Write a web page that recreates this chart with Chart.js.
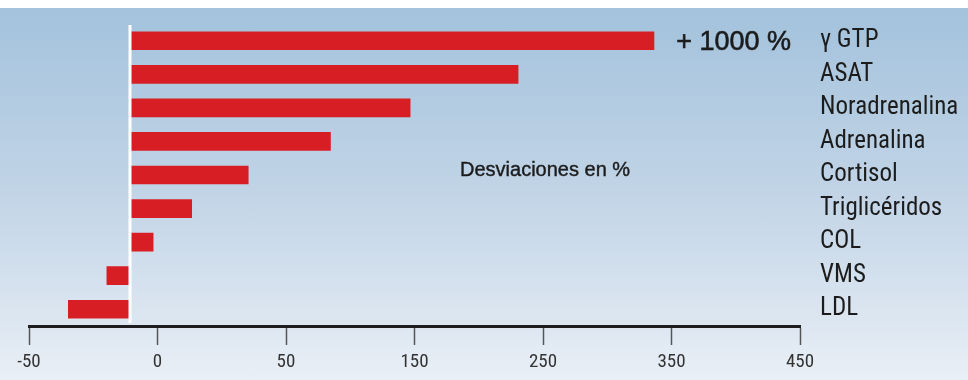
<!DOCTYPE html>
<html>
<head>
<meta charset="utf-8">
<script src="https://cdn.jsdelivr.net/npm/chart.js@4"></script>
<style>
    html, body { margin: 0; padding: 0; background: #fff; }
    .panel {
        position: relative;
        width: 968px;
        height: 380px;
        background: linear-gradient(to bottom, #fff 0, #fff 8px, #a3c2dc 8px, #c3d5e7 200px, #e9eff6 380px);
    }
</style>
</head>
<body>
<div class="panel">
    <canvas id="desvChart" width="968" height="380"></canvas>
</div>
<script>
// Parameters, top to bottom
const categories = ['γ GTP', 'ASAT', 'Noradrenalina', 'Adrenalina', 'Cortisol', 'Triglicéridos', 'COL', 'VMS', 'LDL'];
// Deviation in %
const deviations = [1000, 151, 109, 78, 46, 24, 9, -9, -24];
// Where the bar scale is cut off (long bars stop here)
const breakAt = 204;
// Labels printed under the evenly spaced axis ticks
const tickLabels = ['-50', '0', '50', '150', '250', '350', '450'];

const axisTitle = 'Desviaciones en %';
const narrow = '"Liberation Sans Narrow", "Arial Narrow", "Roboto Condensed", sans-serif';

// Cut long bars at breakAt and print the real value next to them
const breakPlugin = {
    id: 'axisBreak',
    beforeDatasetsDraw(chart) {
        const { ctx, chartArea } = chart;
        const cut = chart.scales.x.getPixelForValue(breakAt);
        ctx.save();
        ctx.beginPath();
        ctx.rect(0, chartArea.top, cut, chartArea.bottom - chartArea.top);
        ctx.clip();
    },
    afterDatasetsDraw(chart) {
        const { ctx, chartArea, scales } = chart;
        ctx.restore();

        // white zero line
        const x0 = scales.x.getPixelForValue(0);
        ctx.save();
        ctx.strokeStyle = '#ffffff';
        ctx.lineWidth = 3;
        ctx.beginPath();
        ctx.moveTo(x0, chartArea.top + 1);
        ctx.lineTo(x0, chartArea.bottom - 3);
        ctx.stroke();

        // value of the cut bars
        ctx.fillStyle = '#1c1c1c';
        ctx.font = '27px "Liberation Sans", Arial, sans-serif';
        ctx.textAlign = 'left';
        ctx.textBaseline = 'middle';
        deviations.forEach((v, i) => {
            if (v > breakAt) {
                const y = scales.y.getPixelForValue(i);
                const txt = '+ ' + v + ' %';
                const xt = scales.x.getPixelForValue(breakAt) + 22;
                ctx.lineWidth = 0.6;
                ctx.strokeStyle = '#1c1c1c';
                ctx.fillText(txt, xt, y + 2);
                ctx.strokeText(txt, xt, y + 2);
            }
        });

        // caption
        ctx.font = '20px "Liberation Sans", Arial, sans-serif';
        ctx.fillText(axisTitle, 460, 170);
        ctx.lineWidth = 0.4;
        ctx.strokeText(axisTitle, 460, 170);
        ctx.restore();
    }
};

const ctx = document.getElementById('desvChart').getContext('2d');
new Chart(ctx, {
    type: 'bar',
    data: {
        labels: categories,
        datasets: [{
            data: deviations,
            backgroundColor: '#d71e25',
            borderWidth: 0,
            barThickness: 18
        }]
    },
    options: {
        indexAxis: 'y',
        responsive: false,
        animation: false,
        events: [],
        layout: { padding: { left: 29, top: 24, right: 0, bottom: 8 } },
        plugins: {
            legend: { display: false },
            tooltip: { enabled: false }
        },
        scales: {
            x: {
                type: 'linear',
                display: false,
                min: -39.3,
                max: 260.7
            },
            xt: {
                type: 'linear',
                position: 'bottom',
                min: 0,
                max: tickLabels.length - 1,
                afterFit(scale) { scale.height = 46; },
                ticks: {
                    stepSize: 1,
                    autoSkip: false,
                    maxRotation: 0,
                    padding: 6,
                    color: '#333',
                    font: { family: narrow, size: 19 },
                    callback: (value) => tickLabels[value]
                },
                grid: {
                    drawOnChartArea: false,
                    drawTicks: true,
                    tickLength: 19,
                    tickWidth: 1.5,
                    tickColor: '#555'
                },
                border: { display: true, color: '#1e1e1e', width: 3 }
            },
            y: {
                type: 'category',
                position: 'right',
                afterFit(scale) {
                    scale.width = 168;
                    scale.paddingTop = 0;
                    scale.paddingBottom = 0;
                },
                grid: { display: false, drawTicks: false },
                border: { display: false },
                ticks: {
                    autoSkip: false,
                    padding: 20,
                    color: '#1c1c1c',
                    font: { family: narrow, size: 25 }
                }
            }
        }
    },
    plugins: [breakPlugin]
});
</script>
</body>
</html>
